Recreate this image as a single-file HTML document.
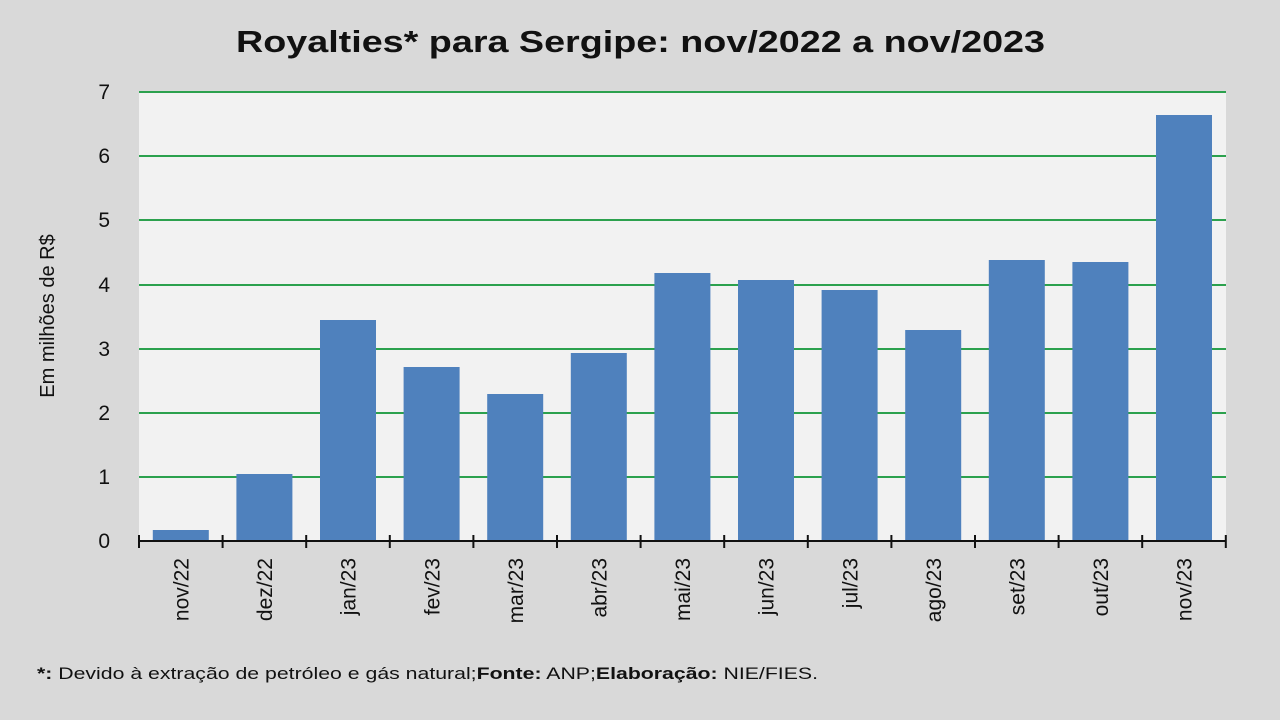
<!DOCTYPE html>
<html><head><meta charset="utf-8"><style>
html,body{margin:0;padding:0;background:#d9d9d9;}
svg{display:block;font-family:"Liberation Sans",sans-serif;}
</style></head><body>
<svg width="1280" height="720" viewBox="0 0 1280 720">
<rect width="1280" height="720" fill="#d9d9d9"/>
<text x="236" y="52" font-size="31" font-weight="bold" fill="#111" textLength="809" lengthAdjust="spacingAndGlyphs">Royalties* para Sergipe: nov/2022 a nov/2023</text>
<rect x="139" y="92" width="1087" height="449" fill="#f2f2f2"/>
<g stroke="#2ca14e" stroke-width="2">
<line x1="139" x2="1226" y1="92" y2="92"/>
<line x1="139" x2="1226" y1="156" y2="156"/>
<line x1="139" x2="1226" y1="220" y2="220"/>
<line x1="139" x2="1226" y1="285" y2="285"/>
<line x1="139" x2="1226" y1="349" y2="349"/>
<line x1="139" x2="1226" y1="413" y2="413"/>
<line x1="139" x2="1226" y1="477" y2="477"/>
</g>
<g fill="#4f81bd">
<rect x="152.8" y="530" width="56" height="11"/>
<rect x="236.4" y="474" width="56" height="67"/>
<rect x="320" y="320" width="56" height="221"/>
<rect x="403.6" y="367" width="56" height="174"/>
<rect x="487.2" y="394" width="56" height="147"/>
<rect x="570.8" y="353" width="56" height="188"/>
<rect x="654.4" y="273" width="56" height="268"/>
<rect x="738" y="280" width="56" height="261"/>
<rect x="821.6" y="290" width="56" height="251"/>
<rect x="905.2" y="330" width="56" height="211"/>
<rect x="988.8" y="260" width="56" height="281"/>
<rect x="1072.4" y="262" width="56" height="279"/>
<rect x="1156" y="115" width="56" height="426"/>
</g>
<g stroke="#111" stroke-width="2">
<line x1="139" x2="1226" y1="541" y2="541"/>
<line x1="139" x2="139" y1="535" y2="548"/>
<line x1="222.6" x2="222.6" y1="535" y2="548"/>
<line x1="306.2" x2="306.2" y1="535" y2="548"/>
<line x1="389.8" x2="389.8" y1="535" y2="548"/>
<line x1="473.4" x2="473.4" y1="535" y2="548"/>
<line x1="557" x2="557" y1="535" y2="548"/>
<line x1="640.6" x2="640.6" y1="535" y2="548"/>
<line x1="724.2" x2="724.2" y1="535" y2="548"/>
<line x1="807.8" x2="807.8" y1="535" y2="548"/>
<line x1="891.4" x2="891.4" y1="535" y2="548"/>
<line x1="975" x2="975" y1="535" y2="548"/>
<line x1="1058.6" x2="1058.6" y1="535" y2="548"/>
<line x1="1142.2" x2="1142.2" y1="535" y2="548"/>
<line x1="1225.8" x2="1225.8" y1="535" y2="548"/>
</g>
<g font-size="21" fill="#111" text-anchor="end">
<text x="110" y="99">7</text>
<text x="110" y="163">6</text>
<text x="110" y="227">5</text>
<text x="110" y="292">4</text>
<text x="110" y="356">3</text>
<text x="110" y="420">2</text>
<text x="110" y="484">1</text>
<text x="110" y="548">0</text>
</g>
<text transform="translate(54,316) rotate(-90)" text-anchor="middle" font-size="20" fill="#111">Em milhões de R$</text>
<g font-size="21" fill="#111" text-anchor="end">
<text transform="translate(188.5,558) rotate(-90)">nov/22</text>
<text transform="translate(272.1,558) rotate(-90)">dez/22</text>
<text transform="translate(355.7,558) rotate(-90)">jan/23</text>
<text transform="translate(439.3,558) rotate(-90)">fev/23</text>
<text transform="translate(522.9,558) rotate(-90)">mar/23</text>
<text transform="translate(606.5,558) rotate(-90)">abr/23</text>
<text transform="translate(690.1,558) rotate(-90)">mai/23</text>
<text transform="translate(773.7,558) rotate(-90)">jun/23</text>
<text transform="translate(857.3,558) rotate(-90)">jul/23</text>
<text transform="translate(940.9,558) rotate(-90)">ago/23</text>
<text transform="translate(1024.5,558) rotate(-90)">set/23</text>
<text transform="translate(1108.1,558) rotate(-90)">out/23</text>
<text transform="translate(1191.7,558) rotate(-90)">nov/23</text>
</g>
<text x="37" y="679" font-size="17" fill="#111" textLength="781" lengthAdjust="spacingAndGlyphs"><tspan font-weight="bold">*:</tspan> Devido à extração de petróleo e gás natural;<tspan font-weight="bold">Fonte:</tspan> ANP;<tspan font-weight="bold">Elaboração:</tspan> NIE/FIES.</text>
</svg>
</body></html>
